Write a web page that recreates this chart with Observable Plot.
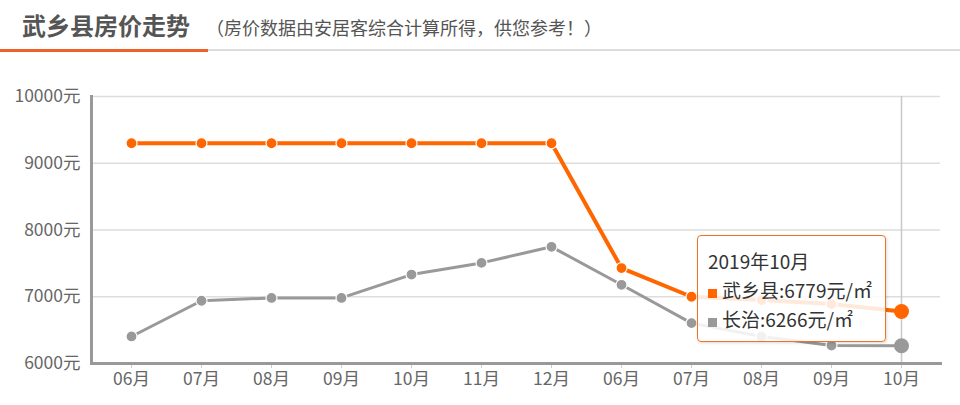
<!DOCTYPE html>
<html>
<head>
<meta charset="utf-8">
<script src="https://cdn.jsdelivr.net/npm/d3@7"></script>
<script src="https://cdn.jsdelivr.net/npm/@observablehq/plot@0.6"></script>
<style>
  html, body { margin: 0; padding: 0; background: #fff; }
  body { width: 960px; height: 405px; overflow: hidden; position: relative; font-family: "Noto Sans CJK SC", "Noto Sans", sans-serif; }
  #header { position: relative; height: 60px; }
  #title { position: absolute; left: 22px; top: 13px; font-size: 24px; line-height: 1; font-weight: bold; color: #555; white-space: nowrap; }
  #subtitle { position: absolute; left: 206px; top: 17.5px; font-size: 18px; line-height: 1; color: #555; white-space: nowrap; }
  #rule-gray { position: absolute; left: 0; top: 49px; width: 960px; height: 2px; background: #dcdcdc; }
  #rule-orange { position: absolute; left: 0; top: 48.5px; width: 208px; height: 3px; background: #f0602a; }
  #chart { position: absolute; left: 0; top: 60px; }
  #tooltip { position: absolute; left: 697px; top: 235px; width: 189px; height: 107px; box-sizing: border-box;
    border: 1px solid #f47124; border-radius: 4px; background: rgba(255,255,255,0.86);
    box-shadow: 1px 1px 3px rgba(0,0,0,0.15); padding: 9.5px 0 0 10px; color: #333; font-size: 19px; }
  #tooltip div { height: 29px; line-height: 29px; white-space: nowrap; }
  #tooltip .sq { display: inline-block; width: 9px; height: 9px; margin-right: 5px; vertical-align: 0px; }
</style>
</head>
<body>
<div id="header">
  <div id="title">武乡县房价走势</div>
  <div id="subtitle">（房价数据由安居客综合计算所得，供您参考！）</div>
  <div id="rule-gray"></div>
  <div id="rule-orange"></div>
</div>
<div id="chart"></div>
<div id="tooltip"></div>
<script>
// ---- data ----
const periods = ["2018-06","2018-07","2018-08","2018-09","2018-10","2018-11","2018-12","2019-06","2019-07","2019-08","2019-09","2019-10"];
const monthLabels = ["06月","07月","08月","09月","10月","11月","12月","06月","07月","08月","09月","10月"];
const wuxiang = [9300,9300,9300,9300,9300,9300,9300,7430,7000,6950,6890,6779];
const changzhi = [6405,6940,6982,6982,7332,7507,7748,7179,6605,6405,6269,6266];
const yTicks = [6000,7000,8000,9000,10000];
const seriesNames = ["武乡县","长治"];
const colors = ["#ff6600","#999999"];
const hoverPeriod = "2019-10";
const hoverLabel = "2019年10月";

const rows = [];
periods.forEach((p, i) => {
  rows.push({p, v: wuxiang[i], s: seriesNames[0]});
  rows.push({p, v: changzhi[i], s: seriesNames[1]});
});
const labelOf = new Map(periods.map((p, i) => [p, monthLabels[i]]));
const orange = rows.filter(d => d.s === seriesNames[0]);
const gray = rows.filter(d => d.s === seriesNames[1]);

const chart = Plot.plot({
  width: 960,
  height: 345,
  marginTop: 36,
  marginBottom: 42,
  marginLeft: 91,
  marginRight: 20,
  style: {fontFamily: "'Noto Sans CJK SC', sans-serif", background: "transparent"},
  x: {type: "point", domain: periods, padding: 0.5},
  y: {domain: [6000, 10000]},
  marks: [
    Plot.gridY(yTicks.slice(1), {stroke: "#dddddd", strokeOpacity: 1, strokeWidth: 1.3}),
    Plot.ruleX([hoverPeriod], {y1: 6000, y2: 10000, stroke: "#c8c8c8", strokeWidth: 1.5}),
    Plot.axisY({ticks: yTicks, tickFormat: d => d + "元", tickSize: 0, tickPadding: 11, fontSize: 17.5, color: "#666", label: null}),
    Plot.axisX({tickFormat: d => labelOf.get(d), tickSize: 5, tickPadding: 4, fontSize: 17.5, color: "#666", stroke: "#ccc", label: null}),
    Plot.frame({anchor: "left", stroke: "#999", strokeWidth: 3}),
    Plot.frame({anchor: "bottom", stroke: "#999", strokeWidth: 3}),
    Plot.line(gray, {x: "p", y: "v", stroke: colors[1], strokeWidth: 3}),
    Plot.dot(gray, {filter: d => d.p !== hoverPeriod, x: "p", y: "v", r: 5.5, fill: colors[1], stroke: "#fff", strokeWidth: 1.2}),
    Plot.dot(gray, {filter: d => d.p === hoverPeriod, x: "p", y: "v", r: 7.5, fill: colors[1]}),
    Plot.line(orange, {x: "p", y: "v", stroke: colors[0], strokeWidth: 4}),
    Plot.dot(orange, {filter: d => d.p !== hoverPeriod, x: "p", y: "v", r: 5.5, fill: colors[0], stroke: "#fff", strokeWidth: 1.2}),
    Plot.dot(orange, {filter: d => d.p === hoverPeriod, x: "p", y: "v", r: 7.5, fill: colors[0]})
  ]
});
document.getElementById("chart").appendChild(chart);

const tt = document.getElementById("tooltip");
const hi = periods.indexOf(hoverPeriod);
tt.innerHTML = `<div>${hoverLabel}</div>` +
  `<div><span class="sq" style="background:${colors[0]}"></span>${seriesNames[0]}:${wuxiang[hi]}元/㎡</div>` +
  `<div><span class="sq" style="background:${colors[1]}"></span>${seriesNames[1]}:${changzhi[hi]}元/㎡</div>`;
</script>
</body>
</html>
